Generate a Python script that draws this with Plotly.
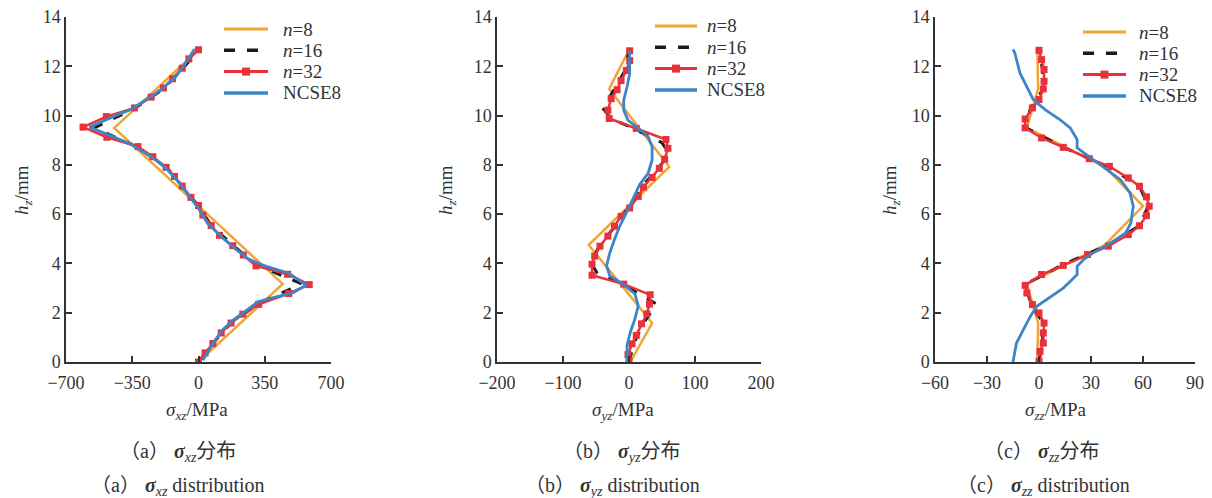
import plotly.graph_objects as go

W, H = 1212, 498

# ---------------- data ----------------
# (a) sigma_xz
a_n8_h = [0, 1.58, 3.17, 4.75, 6.33, 7.92, 9.5, 11.08, 12.67]
a_n8_s = [0, 222, 445, 222, 0, -222, -445, -222, 0]
a_n16_h = [0, 0.79, 1.58, 2.38, 3.17, 3.96, 4.75, 5.54, 6.33, 7.13, 7.92, 8.71, 9.5, 10.29, 11.08, 11.88, 12.67]
a_n16_s = [0, 80, 172, 318, 545, 300, 181, 67, 0, -86, -171, -320, -550, -338, -185, -86, 0]
a_n32_h = [0, 0.37, 0.75, 1.18, 1.58, 1.94, 2.34, 2.78, 3.14, 3.56, 3.90, 4.34, 4.72, 5.14, 5.54, 5.96, 6.35,
           6.68, 7.14, 7.53, 7.90, 8.33, 8.74, 9.12, 9.53, 9.96, 10.31, 10.75, 11.12, 11.49, 11.92, 12.30, 12.67]
a_n32_s = [0, 35, 76, 120, 172, 234, 318, 477, 585, 471, 304, 237, 181, 111, 67, 23, 0,
           -40, -86, -127, -171, -241, -320, -484, -610, -487, -338, -250, -185, -137, -86, -51, 0]
a_nc_h = [0.07, 0.75, 1.29, 1.69, 2.03, 2.44, 2.64, 2.80, 3.12, 3.59, 3.93, 4.2, 4.68, 5.15, 5.62, 6.17, 6.64,
          7.25, 7.86, 8.33, 8.87, 9.21, 9.53, 9.89, 10.23, 10.64, 11.11, 11.59, 12.06, 12.7]
a_nc_s = [23, 76, 125, 181, 243, 313, 410, 498, 568, 480, 339, 260, 181, 111, 49, 5, -39,
          -100, -171, -250, -364, -470, -575, -470, -364, -276, -188, -118, -74, -21]

# (b) sigma_yz
b_n8_h = [0, 1.58, 3.17, 4.75, 6.33, 7.92, 9.5, 11.08, 12.67]
b_n8_s = [2, 35, -13, -61, 0, 61, 15, -30, 0]
b_n16_h = [0, 0.79, 1.58, 2.35, 2.75, 3.17, 3.6, 4.03, 4.75, 5.54, 6.33, 7.13, 7.92, 8.45, 8.9, 9.5, 9.85,
           10.3, 11.08, 11.88, 12.67]
b_n16_s = [0, 8, 22, 42, 15, -8, -48, -58, -44, -20, 0, 20, 46, 61, 50, 5, -25, -40, -22, -5, 0]
b_n32_h = [0.03, 0.30, 0.74, 1.08, 1.55, 1.95, 2.35, 2.73, 3.16, 3.52, 3.97, 4.30, 4.70, 5.11, 5.51, 5.91, 6.25,
           6.72, 7.10, 7.49, 7.86, 8.23, 8.67, 9.03, 9.48, 9.88, 10.22, 10.69, 11.05, 11.42, 11.83, 12.23, 12.63]
b_n32_s = [0, -1.5, 4.6, 11, 19, 27, 31, 32, -8, -56, -56, -52, -44, -32, -22, -12, 1,
           14, 22, 35, 46, 54, 59, 56, 11, -30, -32, -27, -18, -12, -4, 1, 1]
b_nc_h = [0, 0.67, 1.21, 1.75, 2.28, 2.76, 3.16, 3.49, 3.90, 4.44, 4.97, 5.51, 6.05, 6.59, 7.19, 7.66, 8.2,
          8.74, 9.14, 9.48, 9.81, 10.22, 10.62, 11.16, 11.69, 12.63]
b_nc_s = [-2.5, -3, 2, 9, 14, 9, -9, -29, -34, -29, -22, -14, -4, 6, 16, 29, 35,
          35, 29, 14, -1.5, -8, -8, -3, 1, 1]

# (c) sigma_zz
c_n8_h = [0, 1.58, 3.17, 4.75, 6.33, 7.92, 9.5, 11.08, 12.67]
c_n8_s = [-1, -0.5, -7, 38, 60, 38, -7, -0.5, -1]
c_n16_h = [0, 0.79, 1.58, 2.38, 3.17, 3.96, 4.75, 5.54, 6.33, 7.13, 7.92, 8.71, 9.5, 10.29, 11.08, 11.88, 12.67]
c_n16_s = [0, 2, 2.5, -5, -7.5, 14, 40, 58, 63, 58, 40, 14, -7.5, -5, 2.5, 2, 0]
c_n32_h = [0.03, 0.43, 0.77, 1.18, 1.58, 1.99, 2.33, 2.80, 3.11, 3.55, 3.92, 4.36, 4.70, 5.17, 5.53, 5.94, 6.32,
           6.70, 7.13, 7.47, 7.94, 8.25, 8.71, 9.09, 9.50, 9.86, 10.31, 10.65, 11.08, 11.39, 11.87, 12.27, 12.65]
c_n32_s = [0, 0.6, 2.5, 2.5, 2.9, 0, -3.8, -7, -8, 1.5, 14, 28, 40, 51.5, 58, 62, 63.6,
           62, 58, 51.5, 40.6, 29, 14, 1.5, -8, -8, -3.8, 0, 2.5, 2.9, 2.9, 1.5, 0]
c_nc_h = [0, 0.77, 1.31, 1.85, 2.26, 2.6, 3.0, 3.34, 3.55, 3.88, 4.15, 4.42, 4.9, 5.24, 5.64, 6.32, 6.86,
          7.4, 7.81, 8.28, 8.69, 9.03, 9.5, 9.84, 10.24, 10.65, 11.19, 11.73, 12.55, 12.68]
c_nc_s = [-15, -13, -9, -5, -1.3, 5.4, 14, 19, 22, 22, 25.6, 31, 43, 50, 53, 54.4, 52.5,
          47, 39, 29.4, 22, 22, 18, 12, 3.5, -3.3, -7, -11, -14, -15]

series_names = ["<i>n</i>=8", "<i>n</i>=16", "<i>n</i>=32", "NCSE8"]
x_ranges = [[-700, 700], [-200, 200], [-60, 90]]
x_dticks = [350, 100, 30]
x_titles = ["xz", "yz", "zz"]
panel_letters = ["a", "b", "c"]

# ---------------- styles ----------------
ORANGE = "#F0A535"
BLACK = "#1a1a1a"
RED = "#E8313A"
BLUE = "#3C86C8"
AXC = "#333333"
TXT = "#333333"
SERIF = "'Liberation Serif', Tinos, 'Times New Roman', 'DejaVu Serif', serif"
CJK = "Noto Sans CJK SC"


def px(x):
    return x / W


def py(y):
    return 1 - y / H


panels = [
    (a_n8_h, a_n8_s, a_n16_h, a_n16_s, a_n32_h, a_n32_s, a_nc_h, a_nc_s),
    (b_n8_h, b_n8_s, b_n16_h, b_n16_s, b_n32_h, b_n32_s, b_nc_h, b_nc_s),
    (c_n8_h, c_n8_s, c_n16_h, c_n16_s, c_n32_h, c_n32_s, c_nc_h, c_nc_s),
]

# pixel geometry of axes
x_dom_px = [(66, 331), (497, 761), (935, 1195)]
y_dom_px = (17, 362)
ylab_x = [23, 447, 891]
xtitle_x = [197, 623, 1055]
cap1_x = [178, 621, 1042]
cap2_x = [178, 612, 1043]
legend_geo = [  # line x0, line x1, text x, first row y
    (224, 268, 281, 29),
    (655, 697, 705, 26),
    (1083, 1126, 1137, 32),
]
ROW = 21.3

fig = go.Figure()
layout = dict(
    template="none",
    width=W, height=H, margin=dict(l=0, r=0, t=0, b=0, pad=0), autosize=False,
    paper_bgcolor="white", plot_bgcolor="white", showlegend=False,
    font=dict(family=SERIF, size=18, color=TXT),
)
annotations = []
shapes = []

for i, data in enumerate(panels):
    h8, s8, h16, s16, h32, s32, hc, sc = data
    xa = "x" if i == 0 else f"x{i+1}"
    ya = "y" if i == 0 else f"y{i+1}"
    fig.add_trace(go.Scatter(x=s8, y=h8, mode="lines", line=dict(color=ORANGE, width=2.5),
                             xaxis=xa, yaxis=ya, name="n=8"))
    fig.add_trace(go.Scatter(x=s16, y=h16, mode="lines", line=dict(color=BLACK, width=3, dash="10px,12px"),
                             xaxis=xa, yaxis=ya, name="n=16"))
    fig.add_trace(go.Scatter(x=s32, y=h32, mode="lines+markers", line=dict(color=RED, width=2.5),
                             marker=dict(symbol="square", size=7, color=RED, line=dict(width=0)),
                             xaxis=xa, yaxis=ya, name="n=32"))
    fig.add_trace(go.Scatter(x=sc, y=hc, mode="lines", line=dict(color=BLUE, width=2.8),
                             xaxis=xa, yaxis=ya, name="NCSE8"))

    x0p, x1p = x_dom_px[i]
    xkey = "xaxis" if i == 0 else f"xaxis{i+1}"
    ykey = "yaxis" if i == 0 else f"yaxis{i+1}"
    layout[xkey] = dict(
        domain=[px(x0p), px(x1p)], anchor=ya, range=x_ranges[i], dtick=x_dticks[i], tick0=0,
        showgrid=False, zeroline=False, showline=True, linecolor=AXC, linewidth=1.5,
        ticks="inside", ticklen=6, tickwidth=1.5, tickcolor=AXC, automargin=False,
        ticklabelstandoff=4,
        tickfont=dict(family=SERIF, size=18, color=TXT), fixedrange=True,
    )
    layout[ykey] = dict(
        domain=[py(y_dom_px[1]), py(y_dom_px[0])], anchor=xa, range=[0, 14], dtick=2, tick0=0,
        showgrid=False, zeroline=False, showline=True, linecolor=AXC, linewidth=1.5,
        ticks="inside", ticklen=6, tickwidth=1.5, tickcolor=AXC, automargin=False,
        tickfont=dict(family=SERIF, size=18, color=TXT), fixedrange=True,
    )

    # y axis title
    annotations.append(dict(
        xref="paper", yref="paper", x=px(ylab_x[i]), y=py(190), xanchor="center", yanchor="middle",
        text="<i>h</i><sub><i>z</i></sub>/mm", textangle=-90, showarrow=False,
        font=dict(family=SERIF, size=19, color=TXT)))
    # x axis title
    annotations.append(dict(
        xref="paper", yref="paper", x=px(xtitle_x[i]), y=py(411), xanchor="center", yanchor="middle",
        text=f"<i>σ</i><sub><i>{x_titles[i]}</i></sub>/MPa", showarrow=False,
        font=dict(family=SERIF, size=19, color=TXT)))
    # captions
    annotations.append(dict(
        xref="paper", yref="paper", x=px(cap1_x[i]), y=py(450), xanchor="center", yanchor="middle",
        text=(f"<span style='font-family:{CJK}'>（</span>{panel_letters[i]}"
              f"<span style='font-family:{CJK}'>）</span> <b><i>σ</i></b><sub><i>{x_titles[i]}</i></sub>"
              f"<span style='font-family:{CJK}'>分布</span>"),
        showarrow=False, font=dict(family=SERIF, size=20, color=TXT)))
    annotations.append(dict(
        xref="paper", yref="paper", x=px(cap2_x[i]), y=py(484), xanchor="center", yanchor="middle",
        text=(f"<span style='font-family:{CJK}'>（</span>{panel_letters[i]}"
              f"<span style='font-family:{CJK}'>）</span> <b><i>σ</i></b><sub><i>{x_titles[i]}</i></sub> distribution"),
        showarrow=False, font=dict(family=SERIF, size=20, color=TXT)))

    # legend (drawn as decoration)
    lx0, lx1, tx, ry = legend_geo[i]
    styles = [
        dict(color=ORANGE, width=3, dash="solid"),
        dict(color=BLACK, width=3.5, dash="11px,12px"),
        dict(color=RED, width=3, dash="solid"),
        dict(color=BLUE, width=3.5, dash="solid"),
    ]
    for k in range(4):
        yy = ry + k * ROW
        shapes.append(dict(type="line", xref="paper", yref="paper",
                           x0=px(lx0), x1=px(lx1), y0=py(yy), y1=py(yy), line=styles[k]))
        if k == 2:
            cx = (lx0 + lx1) / 2
            shapes.append(dict(type="rect", xref="paper", yref="paper",
                               x0=px(cx - 4), x1=px(cx + 4), y0=py(yy - 4), y1=py(yy + 4),
                               line=dict(width=0), fillcolor=RED))
        annotations.append(dict(
            xref="paper", yref="paper", x=px(tx), y=py(yy), xanchor="left", yanchor="middle",
            text=series_names[k], showarrow=False, font=dict(family=SERIF, size=19, color=TXT)))

layout["annotations"] = annotations
layout["shapes"] = shapes
fig.update_layout(**layout)
fig.write_html("out.html", config={"displayModeBar": False},
               post_script="document.body.style.margin='0';document.body.style.overflow='hidden';")
